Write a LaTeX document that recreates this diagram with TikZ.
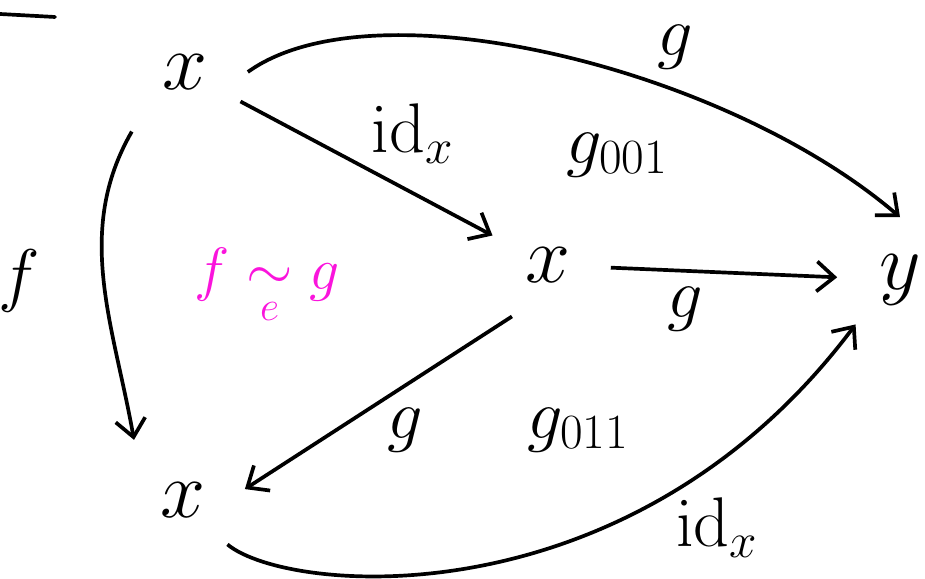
\documentclass[tikz,border=0pt]{standalone}
\usepackage{fix-cm}
\usepackage{tikz}
\usetikzlibrary{arrows.meta}
\usetikzlibrary{positioning}
\definecolor{penpink}{RGB}{250,20,220}
\tikzstyle{obj} = [circle, minimum size=2.5cm, inner sep=0pt, font=\fontsize{46}{50}\selectfont]
\tikzstyle{lbl} = [inner sep=2pt, font=\fontsize{40}{44}\selectfont]
\tikzstyle{homot} = [inner sep=2pt, text=penpink, font=\fontsize{34}{38}\selectfont]
\tikzstyle{arrow} = [line width=2.1pt, ->, >={Straight Barb[length=10pt,width=17pt]}]

\begin{document}
\begin{tikzpicture}

\useasboundingbox (0,0) rectangle (18.5,11.58);

% Stroke in the corner
\draw [line width=2.1pt, line cap=round] (0,11.3) -- (1.1,11.24);

% Top object
\node (xa) [obj] at (3.7,10.14) {$x$};

% Middle object
\node (xm) [obj] at (10.96,6.28) {$x$};

% Target
\node (y) [obj] at (18.0,5.98) {$y$};

% Bottom object
\node (xb) [obj] at (3.66,1.58) {$x$};

% 2-cells
\node (g001) [lbl] at (12.34,8.48) {$g_{001}$};
\node (g011) [lbl] at (11.56,2.98) {$g_{011}$};
\node (htpy) [homot] at (5.34,5.88) {$f \mathrel{\mathop{\sim}\limits_{\raisebox{-0.35em}{$\scriptstyle e$}}} g$};

% Arrows
\draw [arrow] (xa.east) .. controls +(2.5,1.8) and +(-3.5,3) .. node[lbl, pos=0.62, above right, inner sep=0pt, xshift=0.2cm, yshift=0.18cm] {$g$} (y.north);
\draw [arrow] (xa) -- node[lbl, pos=0.5, above right] {$\mathrm{id}_x$} (xm);
\draw [arrow] (xm) -- node[lbl, pos=0.33, below=6pt] {$g$} (y);
\draw [arrow] (xm.235) -- node[lbl, pos=0.4, below=0.35cm] {$g$} (xb.10);
\draw [arrow] (xb.south east) .. controls +(1.2,-1) and +(-4.5,-6) .. node[lbl, pos=0.75, below right] {$\mathrm{id}_x$} (y.south west);
\draw [arrow, shorten <=0.35cm, shorten >=0.35cm] (xa.225) to[out=240, in=100] node[lbl, pos=0.5, left=1.2cm] {$f$} (xb.137);

\end{tikzpicture}
\end{document}
